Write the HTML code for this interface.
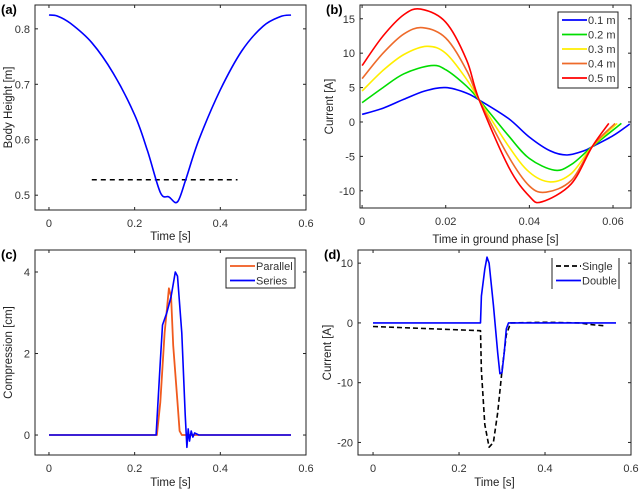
<!DOCTYPE html>
<html><head><meta charset="utf-8">
<style>
html,body{margin:0;padding:0;background:#fff;}
svg{display:block;font-family:"Liberation Sans",sans-serif;}
.tick{font-size:11px;fill:#333;}
.lab{font-size:11.5px;fill:#222;}
.pl{font-size:13px;font-weight:bold;fill:#000;}
</style></head>
<body>
<svg id="c" width="640" height="493" viewBox="0 0 640 493" xmlns="http://www.w3.org/2000/svg"></svg>
<script>
// (a) body height
const aTime=[0,0.02,0.05,0.1,0.15,0.2,0.23,0.26,0.28,0.3,0.32,0.35,0.4,0.45,0.5,0.54,0.565];
const aHeight=[0.825,0.823,0.81,0.775,0.72,0.645,0.58,0.505,0.497,0.488,0.53,0.6,0.69,0.76,0.805,0.822,0.825];
const aThreshX=[0.1,0.44];
const aThreshY=[0.528,0.528];
// (b) current vs time in ground phase
const bLabels=["0.1 m","0.2 m","0.3 m","0.4 m","0.5 m"];
const bColors=["#0000ff","#00dd00","#ffee00","#ee6a2a","#ff0000"];
const bT1=[0,0.005,0.01,0.015,0.02,0.025,0.028,0.035,0.04,0.045,0.049,0.053,0.055,0.06,0.064];
const bI1=[1.1,2,3.3,4.5,5,4.2,3.2,0.5,-2.2,-4.2,-4.8,-4.2,-3.6,-2,-0.3];
const bT2=[0,0.005,0.01,0.0165,0.02,0.025,0.028,0.035,0.04,0.046,0.05,0.055,0.062];
const bI2=[2.8,5,7,8.2,7.6,5.2,3.2,-2,-5.3,-7,-6.2,-3.6,-0.2];
const bT3=[0,0.005,0.01,0.0155,0.02,0.025,0.028,0.035,0.04,0.045,0.05,0.055,0.061];
const bI3=[4.5,7.5,9.8,11,10,6.2,3.2,-3.5,-7.3,-8.7,-7.5,-3.6,-0.2];
const bT4=[0,0.005,0.01,0.0145,0.02,0.025,0.028,0.035,0.04,0.044,0.05,0.055,0.0605];
const bI4=[6.3,10,12.8,13.7,12.2,7.5,3.2,-5,-9.3,-10.2,-8.5,-3.6,-0.2];
const bT5=[0,0.005,0.01,0.014,0.02,0.025,0.028,0.035,0.04,0.043,0.05,0.055,0.059];
const bI5=[8.2,12.5,15.6,16.4,14.5,9,3.2,-6.5,-10.8,-11.6,-9,-3.6,-0.2];
// (c) compression
const cParT=[0,0.252,0.26,0.27,0.28,0.285,0.29,0.3,0.305,0.31,0.565];
const cParV=[0,0,0.8,2.5,3.6,3.4,2.2,0.8,0.1,0,0];
const cSerT=[0,0.25,0.26,0.265,0.275,0.285,0.295,0.3,0.31,0.318,0.322,0.325,0.328,0.332,0.336,0.34,0.35,0.565];
const cSerV=[0,0,1.8,2.7,3.0,3.4,4.0,3.9,2.5,0.5,-0.3,0.15,-0.15,0.1,-0.05,0.05,0,0];
// (d) current single vs double
const dSinT=[0,0.25,0.252,0.26,0.27,0.28,0.29,0.3,0.31,0.32,0.4,0.48,0.51,0.54];
const dSinV=[-0.6,-1.3,-8,-17,-20.8,-20,-15,-8,-2,0,0.1,0,-0.3,-0.5];
const dDouT=[0,0.25,0.252,0.26,0.265,0.27,0.28,0.29,0.295,0.3,0.305,0.31,0.315,0.565];
const dDouV=[0,0,4.5,9,11,10,3,-5,-8.5,-8.3,-5,-1,0,0];
// ticks
const tickTime=[0,0.2,0.4,0.6];
const tickTimeLbl=["0","0.2","0.4","0.6"];
const tickA=[0.5,0.6,0.7,0.8];
const tickB=[-10,-5,0,5,10,15];
const tickBx=[0,0.02,0.04,0.06];
const tickC=[0,2,4];
const tickD=[-20,-10,0,10];

const NS="http://www.w3.org/2000/svg";
const svg=document.getElementById('c');
function mk(tag,attrs,parent){const e=document.createElementNS(NS,tag);for(const k in attrs)e.setAttribute(k,attrs[k]);(parent||svg).appendChild(e);return e;}

function panel(name,px,xd,yd,xt,xtl,yt,xlabel,ylabel,ylx,letter,xlabY){
  const g=mk('g',{});
  
  
  const sx=v=>px[0]+(v-xd[0])/(xd[1]-xd[0])*(px[1]-px[0]);
  const sy=v=>px[3]-(v-yd[0])/(yd[1]-yd[0])*(px[3]-px[2]);
  const box=mk('rect',{x:px[0],y:px[2],width:px[1]-px[0],height:px[3]-px[2],fill:'none',stroke:'#222','stroke-width':1},g);
  
  
  xt.forEach((v,i)=>{
    const x=sx(v);
    mk('line',{x1:x,x2:x,y1:px[3],y2:px[3]-3,stroke:'#222'},g);
    mk('line',{x1:x,x2:x,y1:px[2],y2:px[2]+3,stroke:'#222'},g);
    const t=mk('text',{x:x,y:px[3]+17,'text-anchor':'middle',class:'tick'},g);
    t.textContent=xtl[i];
    
    
  });
  yt.forEach(v=>{
    const y=sy(v);
    mk('line',{x1:px[0],x2:px[0]+3,y1:y,y2:y,stroke:'#222'},g);
    mk('line',{x1:px[1],x2:px[1]-3,y1:y,y2:y,stroke:'#222'},g);
    const t=mk('text',{x:px[0]-5,y:y+4,'text-anchor':'end',class:'tick'},g);
    t.textContent=String(v);
    
    
  });
  const xl=mk('text',{x:(px[0]+px[1])/2,y:xlabY,'text-anchor':'middle',class:'lab'},g);
  xl.textContent=xlabel;
  
  
  const yc=(px[2]+px[3])/2;
  const yl=mk('text',{x:ylx,y:yc,'text-anchor':'middle',class:'lab',transform:`rotate(-90 ${ylx} ${yc})`},g);
  yl.textContent=ylabel;
  
  
  const pl=mk('text',{x:px[0]-34,y:px[2]+9,class:'pl'},g);
  pl.textContent=letter;
  
  
  return {g,sx,sy};
}
function line(p,xs,ys,color,name,dash,w,smooth){
  const P=xs.map((x,i)=>[p.sx(x),p.sy(ys[i])]);
  let d='M'+P[0][0].toFixed(1)+','+P[0][1].toFixed(1);
  for(let i=0;i<P.length-1;i++){
    if(smooth){
      const p0=P[Math.max(0,i-1)],p1=P[i],p2=P[i+1],p3=P[Math.min(P.length-1,i+2)];
      const c1=[p1[0]+(p2[0]-p0[0])/6,p1[1]+(p2[1]-p0[1])/6];
      const c2=[p2[0]-(p3[0]-p1[0])/6,p2[1]-(p3[1]-p1[1])/6];
      d+=' C'+c1.map(v=>v.toFixed(1)).join(',')+' '+c2.map(v=>v.toFixed(1)).join(',')+' '+p2.map(v=>v.toFixed(1)).join(',');
    } else d+=' L'+P[i+1][0].toFixed(1)+','+P[i+1][1].toFixed(1);
  }
  const l=mk('path',{d:d,fill:'none',stroke:color,'stroke-width':w||1.6,'stroke-linejoin':'round'},p.g);
  if(dash)l.setAttribute('stroke-dasharray',dash);
  
  
}
function legend(g,x,y,w,h,items,onlySides){
  const lg=mk('g',{},g);
  
  
  if(onlySides){
    mk('line',{x1:x,x2:x,y1:y,y2:y+h,stroke:'#222'},lg);
    mk('line',{x1:x+w,x2:x+w,y1:y,y2:y+h,stroke:'#222'},lg);
  } else mk('rect',{x:x,y:y,width:w,height:h,fill:'#fff',stroke:'#222'},lg);
  items.forEach((it,i)=>{
    const yy=y+8+i*14.5;
    const l=mk('line',{x1:x+4,x2:x+29,y1:yy,y2:yy,stroke:it[1],'stroke-width':1.8},lg);
    if(it[2])l.setAttribute('stroke-dasharray',it[2]);
    const t=mk('text',{x:x+30,y:yy+4,class:'tick'},lg);
    t.textContent=it[0];
    
    
  });
}

// (a)
const pa=panel('panel-a-body-height',[35,306,5,210],[-0.0326,0.6],[0.4733,0.843],tickTime,tickTimeLbl,tickA,'Time [s]','Body Height [m]',12,'(a)',240);
line(pa,aThreshX,aThreshY,'#000','threshold-line','5,4',1.5);
line(pa,aTime,aHeight,'#0000ff','body-height-line',null,1.6,true);
// (b)
const pb=panel('panel-b-current',[360,631,5,208],[-0.0005,0.0643],[-12.5,17.0],tickBx,["0","0.02","0.04","0.06"],tickB,'Time in ground phase [s]','Current [A]',333,'(b)',243);
const bT=[bT1,bT2,bT3,bT4,bT5],bI=[bI1,bI2,bI3,bI4,bI5];
for(let k=0;k<5;k++)line(pb,bT[k],bI[k],bColors[k],'series-'+bLabels[k].replace(' ','').replace('.','_'),null,1.6,true);
legend(pb.g,558,12,60,76,bLabels.map((l,i)=>[l,bColors[i]]));
// (c)
const pc=panel('panel-c-compression',[35,306,250,455],[-0.0326,0.6],[-0.49,4.54],tickTime,tickTimeLbl,tickC,'Time [s]','Compression [cm]',12,'(c)',486);
line(pc,cParT,cParV,'#f05a1e','parallel-line',null,1.8);
line(pc,cSerT,cSerV,'#0000ff','series-line');
legend(pc.g,226,258,69,30,[['Parallel','#f05a1e'],['Series','#0000ff']]);
// (d)
const pd=panel('panel-d-current',[358,631,250,455],[-0.035,0.6],[-22.1,12.2],tickTime,tickTimeLbl,tickD,'Time [s]','Current [A]',331,'(d)',486);
line(pd,dSinT,dSinV,'#000','single-line','5,3');
line(pd,dDouT,dDouV,'#0000ff','double-line');
legend(pd.g,552,258,67,31,[['Single','#000','5,3'],['Double','#0000ff']],true);
</script>
</body></html>
